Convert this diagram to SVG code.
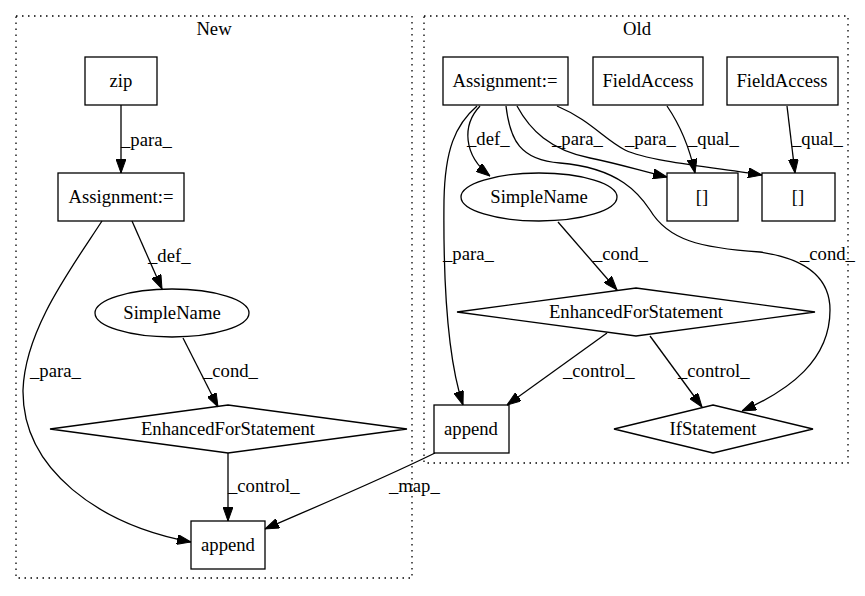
<svg xmlns="http://www.w3.org/2000/svg" width="865" height="596" viewBox="0 0 865 596">
<style>
text{font-family:"Liberation Serif","Times New Roman",serif;font-size:18.67px;fill:#000}
.n{text-anchor:middle}
.node rect,.node ellipse,.node polygon{fill:#fff;stroke:#000;stroke-width:1.3}
.cl{fill:none;stroke:#000;stroke-width:1.3;stroke-dasharray:1.5,4.5}
.e path{fill:none;stroke:#000;stroke-width:1.3;marker-end:url(#ah)}
</style>
<defs>
<marker id="ah" viewBox="0 0 14 10" refX="14" refY="5" markerWidth="14" markerHeight="10" markerUnits="userSpaceOnUse" orient="auto">
<path d="M0,0 L14,5 L0,10 z" fill="#000" stroke="#000"/>
</marker>
</defs>
<rect width="865" height="596" fill="#fff"/>
<g id="cluster_new">
<rect class="cl" x="16" y="16" width="396" height="562"/>
<text class="n" x="214" y="35">New</text>
</g>
<g id="cluster_old">
<rect class="cl" x="424" y="16" width="424" height="447"/>
<text class="n" x="637" y="35">Old</text>
</g>
<g id="new_zip" class="node"><rect x="85" y="57" width="72" height="48"/><text class="n" x="121" y="87">zip</text></g>
<g id="new_assign" class="node"><rect x="58" y="173" width="126" height="48"/><text class="n" x="121" y="203">Assignment:=</text></g>
<g id="new_simplename" class="node"><ellipse cx="172" cy="313" rx="77" ry="24"/><text class="n" x="172" y="319">SimpleName</text></g>
<g id="new_efs" class="node"><polygon points="228,405 407,429 228,453 50,429"/><text class="n" x="228" y="435">EnhancedForStatement</text></g>
<g id="new_append" class="node"><rect x="191" y="521" width="74" height="48"/><text class="n" x="228" y="551">append</text></g>
<g id="old_assign" class="node"><rect x="443" y="57" width="125" height="48"/><text class="n" x="505" y="87">Assignment:=</text></g>
<g id="old_fa1" class="node"><rect x="593" y="57" width="110" height="48"/><text class="n" x="648" y="87">FieldAccess</text></g>
<g id="old_fa2" class="node"><rect x="727" y="57" width="111" height="48"/><text class="n" x="782" y="87">FieldAccess</text></g>
<g id="old_idx1" class="node"><rect x="667" y="173" width="71" height="48"/><text class="n" x="702" y="203">[]</text></g>
<g id="old_idx2" class="node"><rect x="762" y="173" width="73" height="48"/><text class="n" x="798" y="203">[]</text></g>
<g id="old_simplename" class="node"><ellipse cx="539" cy="197" rx="78" ry="24"/><text class="n" x="539" y="203">SimpleName</text></g>
<g id="old_efs" class="node"><polygon points="636,288 815,312 636,336 457,312"/><text class="n" x="636" y="318">EnhancedForStatement</text></g>
<g id="old_append" class="node"><rect x="434" y="405" width="75" height="48"/><text class="n" x="471" y="435">append</text></g>
<g id="old_if" class="node"><polygon points="713,405 813,429 713,453 614,429"/><text class="n" x="713" y="435">IfStatement</text></g>
<g id="connectors" class="e">
<path d="M121,105 L121,173"/><text x="121" y="146">_para_</text>
<path d="M132,221 L162,289"/><text x="148" y="262">_def_</text>
<path d="M102,221 C70,270 25,330 23,390 C22,470 100,525 191,542"/><text x="30" y="377">_para_</text>
<path d="M183,338 L218,407"/><text x="203" y="377">_cond_</text>
<path d="M228,453 L228,521"/><text x="228" y="492">_control_</text>
<path d="M435,453 C380,480 320,505 265,529"/><text x="389" y="492">_map_</text>
<path d="M480,106 C462,125 463,155 490,176"/><text x="467" y="145">_def_</text>
<path d="M477,106 C455,125 445,150 444,200 C443,290 448,360 463,405"/><text x="443" y="260">_para_</text>
<path d="M517,106 C530,130 550,150 590,158 C620,164 645,172 667,177"/><text x="552" y="145">_para_</text>
<path d="M557,106 C590,120 605,140 625,150 C650,162 720,168 762,175"/><text x="625" y="145">_para_</text>
<path d="M667,106 C680,125 690,150 695,173"/><text x="688" y="145">_qual_</text>
<path d="M787,106 L795,173"/><text x="792" y="145">_qual_</text>
<path d="M506,106 C510,140 520,160 560,163 C620,168 640,195 650,210 C668,240 700,248 760,252 C815,260 830,285 830,310 C830,360 790,390 742,411"/><text x="800" y="260">_cond_</text>
<path d="M558,222 L617,290"/><text x="593" y="260">_cond_</text>
<path d="M607,333 L507,405"/><text x="563" y="377">_control_</text>
<path d="M650,336 L702,407"/><text x="678" y="377">_control_</text>
</g>
</svg>
